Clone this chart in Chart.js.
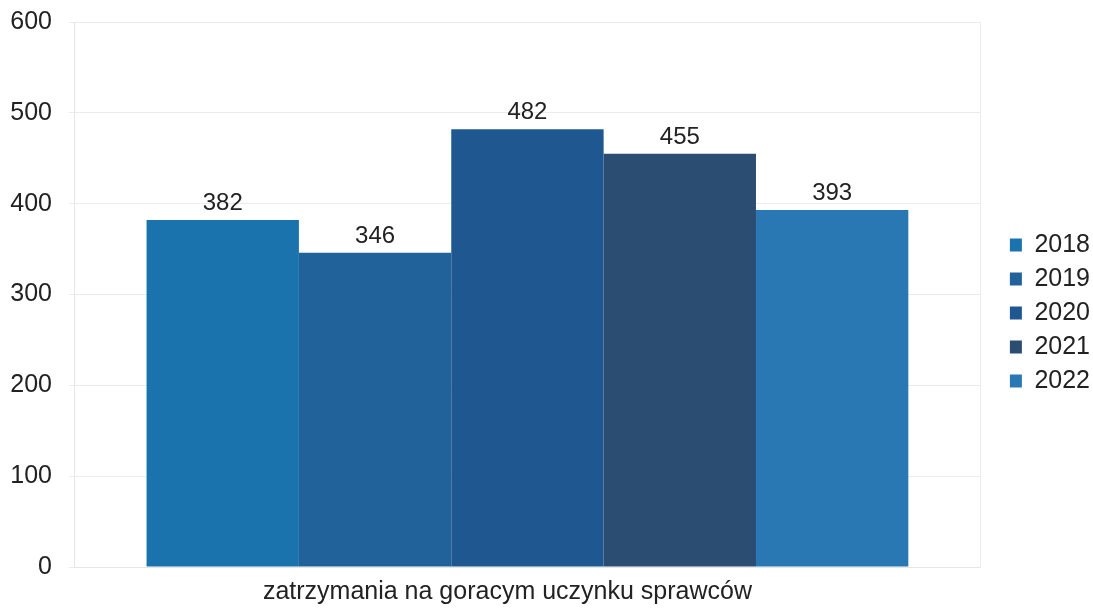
<!DOCTYPE html>
<html>
<head>
<meta charset="utf-8">
<script src="https://cdn.jsdelivr.net/npm/chart.js@4"></script>
<style>
  html, body { margin: 0; padding: 0; background: #fff; }
  #wrap { width: 1093px; height: 612px; }
</style>
</head>
<body>
<div id="wrap"><canvas id="chart"></canvas></div>
<script>
// Data
const categories = ['zatrzymania na goracym uczynku sprawców'];
const years = ['2018', '2019', '2020', '2021', '2022'];
const values = [382, 346, 482, 455, 393];
const colors = ['#1a73ad', '#22629a', '#1f5890', '#2b4d72', '#2a78b3'];
const yTicks = [0, 100, 200, 300, 400, 500, 600];

const fontFamily = '"Liberation Sans", Arial, sans-serif';

// Value labels above each bar
const barLabels = {
    id: 'barLabels',
    afterDatasetsDraw(chart) {
        const ctx = chart.ctx;
        ctx.save();
        ctx.font = '24px ' + fontFamily;
        ctx.fillStyle = '#222';
        ctx.textAlign = 'center';
        ctx.textBaseline = 'alphabetic';
        chart.data.datasets.forEach((ds, i) => {
            const meta = chart.getDatasetMeta(i);
            meta.data.forEach((bar, j) => {
                ctx.fillText(ds.data[j], bar.x, bar.y - 10);
            });
        });
        ctx.restore();
    }
};

// nudge the legend a little, like in the original
const legendShift = {
    id: 'legendShift',
    afterLayout(chart) {
        chart.legend.left += 7;
        chart.legend.right += 7;
        chart.legend.top += 5;
        chart.legend.bottom += 5;
    }
};

const datasets = years.map((y, i) => ({
    label: y,
    data: [values[i]],
    backgroundColor: colors[i],
    borderWidth: 0,
    barPercentage: 1.0,
    categoryPercentage: 0.84
}));

new Chart(document.getElementById('chart'), {
    type: 'bar',
    data: { labels: categories, datasets: datasets },
    plugins: [barLabels, legendShift],
    options: {
        responsive: true,
        maintainAspectRatio: false,
        animation: false,
        layout: { padding: { top: 7, right: 0, bottom: 3, left: 0 } },
        scales: {
            x: {
                grid: { display: false },
                border: { color: '#e6e6e6' },
                ticks: {
                    color: '#222',
                    font: { family: fontFamily, size: 25 },
                    padding: 2,
                    labelOffset: -20
                }
            },
            y: {
                min: 0,
                max: 600,
                afterBuildTicks(axis) {
                    axis.ticks = yTicks.map(v => ({ value: v }));
                },
                afterFit(axis) { axis.width = 74; },
                grid: { color: '#ececec', drawTicks: true, tickLength: 5 },
                border: { color: '#e6e6e6' },
                ticks: {
                    color: '#222',
                    font: { family: fontFamily, size: 25, lineHeight: 0.4 },
                    padding: 17
                }
            },
            // empty right axis: spacing between plot and legend
            yRight: {
                position: 'right',
                min: 0,
                max: 600,
                afterFit(axis) { axis.width = 13; },
                grid: { display: false },
                border: { color: '#ececec' },
                ticks: { display: false }
            }
        },
        plugins: {
            legend: {
                position: 'right',
                labels: {
                    color: '#222',
                    font: { family: fontFamily, size: 25 },
                    boxWidth: 12,
                    boxHeight: 13,
                    padding: 9
                }
            },
            tooltip: { enabled: false }
        }
    }
});
</script>
</body>
</html>
